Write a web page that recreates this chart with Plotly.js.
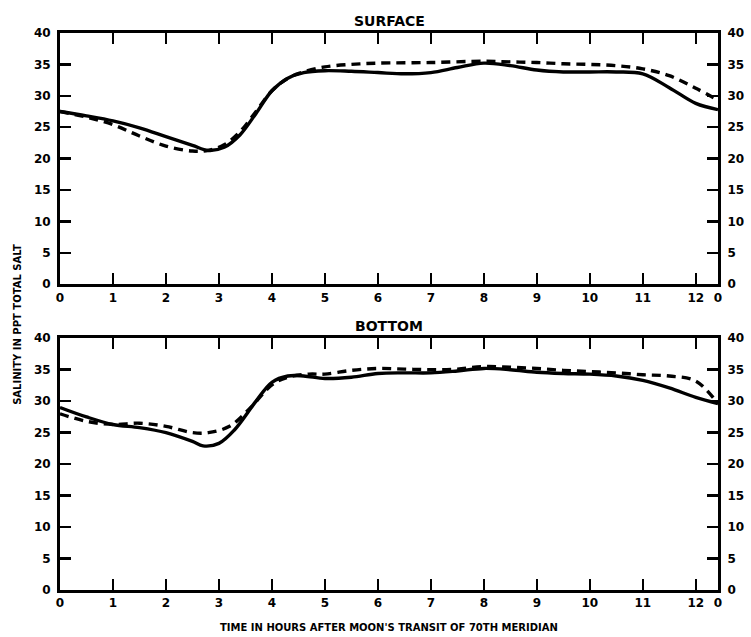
<!DOCTYPE html>
<html>
<head>
<meta charset="utf-8">
<script src="https://cdn.plot.ly/plotly-3.0.1.min.js"></script>
<style>html,body{margin:0;padding:0;background:#fff;}#chart{width:751px;height:637px;}</style>
</head>
<body>
<div id="chart"></div>
<script>
// Surface panel
const surfSolidX = [0, 0.5, 1, 1.5, 2, 2.5, 2.8, 3.1, 3.4, 3.7, 4, 4.3, 4.6, 5, 5.5, 6, 6.5, 7, 7.5, 8, 8.5, 9, 9.5, 10, 10.5, 11, 11.5, 12, 12.42];
const surfSolidY = [27.5, 26.8, 26, 24.9, 23.5, 22.1, 21.3, 21.8, 23.8, 27.2, 30.8, 32.8, 33.7, 34, 33.9, 33.7, 33.5, 33.7, 34.5, 35.2, 34.8, 34.1, 33.8, 33.8, 33.8, 33.5, 31.3, 28.8, 27.8];
const surfDashX = [0, 0.5, 1, 1.5, 2, 2.5, 2.8, 3.1, 3.4, 3.7, 4, 4.3, 4.6, 5, 5.5, 6, 7, 8, 8.5, 9, 9.5, 10, 10.5, 11, 11.5, 12, 12.42];
const surfDashY = [27.5, 26.6, 25.4, 23.6, 22, 21.2, 21.3, 22.2, 24.3, 27.5, 30.8, 32.8, 33.8, 34.6, 35, 35.2, 35.3, 35.5, 35.4, 35.3, 35.1, 35, 34.8, 34.3, 33.2, 31.2, 29.3];
// Bottom panel
const botSolidX = [0, 0.5, 1, 1.5, 2, 2.5, 2.7, 3, 3.3, 3.7, 4, 4.3, 4.6, 5, 5.5, 6, 6.5, 7, 7.5, 8, 8.5, 9, 9.5, 10, 10.5, 11, 11.5, 12, 12.42];
const botSolidY = [29, 27.5, 26.3, 25.8, 25, 23.6, 22.9, 23.3, 25.5, 30, 33, 34, 34, 33.6, 33.8, 34.4, 34.5, 34.5, 34.8, 35.2, 35, 34.6, 34.4, 34.3, 34, 33.3, 32.1, 30.6, 29.6];
const botDashX = [0, 0.5, 1, 1.5, 2, 2.5, 2.8, 3.2, 3.6, 4, 4.3, 4.7, 5, 5.5, 6, 6.5, 7, 7.5, 8, 8.5, 9, 9.5, 10, 10.5, 11, 11.5, 12, 12.42];
const botDashY = [28, 26.8, 26.3, 26.5, 26, 25, 25, 26, 29, 32.6, 33.8, 34.3, 34.3, 34.9, 35.2, 35.1, 35, 35.1, 35.5, 35.4, 35.2, 34.9, 34.7, 34.5, 34.2, 34, 33.2, 29.6];

const xTickVals = [0,1,2,3,4,5,6,7,8,9,10,11,12,12.42];
const xTickText = ['0','1','2','3','4','5','6','7','8','9','10','11','12','0'];
const yTickVals = [0,5,10,15,20,25,30,35,40];
const yTickText = ['0','5','10','15','20','25','30','35','40'];

const panelTitles = ['SURFACE', 'BOTTOM'];
const xTitle = "TIME IN HOURS AFTER MOON'S TRANSIT OF 70TH MERIDIAN";
const yTitle = 'SALINITY IN PPT TOTAL SALT';

const lineW = 3.4;
function tr(x, y, dash, xa, ya) {
  return {x: x, y: y, type: 'scatter', mode: 'lines', xaxis: xa, yaxis: ya,
    line: {color: '#000', width: lineW, dash: dash, shape: 'spline', smoothing: 1},
    hoverinfo: 'skip', showlegend: false};
}
function ghost(xa, ya) {
  return {x: [0], y: [0], type: 'scatter', mode: 'lines', xaxis: xa, yaxis: ya,
    line: {color: 'rgba(0,0,0,0)', width: 0}, hoverinfo: 'skip', showlegend: false};
}
const data = [
  tr(surfDashX, surfDashY, '9px,6px', 'x', 'y'),
  tr(surfSolidX, surfSolidY, 'solid', 'x', 'y'),
  tr(botDashX, botDashY, '9px,6px', 'x2', 'y2'),
  tr(botSolidX, botSolidY, 'solid', 'x2', 'y2'),
  ghost('x', 'y3'),
  ghost('x2', 'y4')
];

const tickFont = {family: 'DejaVu Sans', size: 12, color: '#000', weight: 'bold'};
function xax(anchor) {
  return {range: [0, 12.42], anchor: anchor, tickmode: 'array', tickvals: xTickVals, ticktext: xTickText,
    ticks: 'inside', ticklen: 11, tickwidth: 2.5, tickcolor: '#000', mirror: 'ticks',
    showline: true, linewidth: 3, linecolor: '#000', showgrid: false, zeroline: false,
    tickfont: tickFont, fixedrange: true};
}
function yax(anchor, domain, side, overlay) {
  const a = {range: [0, 40], anchor: anchor, domain: domain, tickmode: 'array', tickvals: yTickVals, ticktext: yTickText,
    ticks: 'inside', ticklen: 11, tickwidth: 2.5, tickcolor: '#000', side: side,
    showline: true, linewidth: 3, linecolor: '#000', showgrid: false, zeroline: false,
    tickfont: tickFont, fixedrange: true, ticklabelstandoff: 4};
  if (overlay) a.overlaying = overlay;
  return a;
}
const topDom = [0.549, 1];
const botDom = [0, 0.452];
const layout = {
  width: 751, height: 637,
  margin: {l: 60, r: 33, t: 33, b: 47},
  paper_bgcolor: '#fff', plot_bgcolor: '#fff',
  showlegend: false,
  xaxis: xax('y'),
  xaxis2: xax('y2'),
  yaxis: yax('x', topDom, 'left'),
  yaxis2: yax('x2', botDom, 'left'),
  yaxis3: yax('x', topDom, 'right', 'y'),
  yaxis4: yax('x2', botDom, 'right', 'y2'),
  annotations: [
    {text: panelTitles[0], xref: 'paper', yref: 'paper', x: 0.5, y: 1, yshift: 2, xanchor: 'center', yanchor: 'bottom',
     showarrow: false, font: {family: 'DejaVu Sans', size: 14, color: '#000', weight: 'bold'}},
    {text: panelTitles[1], xref: 'paper', yref: 'paper', x: 0.5, y: 0.452, yshift: 2, xanchor: 'center', yanchor: 'bottom',
     showarrow: false, font: {family: 'DejaVu Sans', size: 14, color: '#000', weight: 'bold'}},
    {text: xTitle, xref: 'paper', yref: 'paper', x: 0.5, y: 0, yshift: -30, xanchor: 'center', yanchor: 'top',
     showarrow: false, font: {family: 'DejaVu Sans', size: 10, color: '#000', weight: 'bold'}},
    {text: yTitle, xref: 'paper', yref: 'paper', x: 0, xshift: -42, y: 0.476, xanchor: 'center', yanchor: 'middle',
     textangle: -90, showarrow: false, font: {family: 'DejaVu Sans', size: 10, color: '#000', weight: 'bold'}}
  ]
};
Plotly.newPlot('chart', data, layout, {displayModeBar: false, staticPlot: true});
</script>
</body>
</html>
